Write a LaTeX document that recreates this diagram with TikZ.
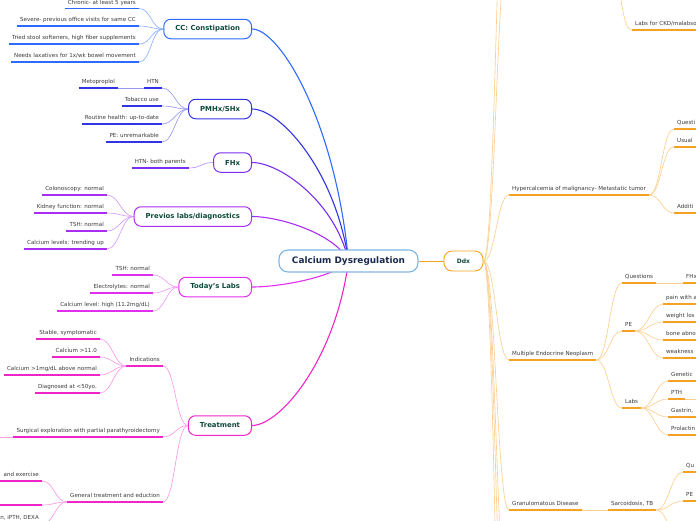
\documentclass[tikz,border=0pt]{standalone}
\usepackage{fontspec}
\setmainfont{DejaVu Sans}
\usetikzlibrary{backgrounds}
\definecolor{ccC}{HTML}{2D6BFF}\definecolor{ccL}{HTML}{8FB0FF}
\definecolor{pmC}{HTML}{3333E6}\definecolor{pmL}{HTML}{9999F2}
\definecolor{fhC}{HTML}{7B2FF0}\definecolor{fhL}{HTML}{B793F7}
\definecolor{pvC}{HTML}{A82EF2}\definecolor{pvL}{HTML}{D49BF8}
\definecolor{tdC}{HTML}{E22EF0}\definecolor{tdL}{HTML}{F29AF7}
\definecolor{trC}{HTML}{F025C8}\definecolor{trL}{HTML}{FA9BE6}
\definecolor{dxC}{HTML}{F5A122}\definecolor{dxL}{HTML}{FCCF90}
\definecolor{rootB}{HTML}{7EB6E3}\definecolor{rootT}{HTML}{1B2B50}
\definecolor{mainT}{HTML}{0E4A3B}\definecolor{txt}{HTML}{3A3A3A}
\newcommand\lfnt{\fontsize{5.55}{6}\selectfont}
\newcommand\mfnt{\bfseries\fontsize{6.9}{8}\selectfont}
\newcommand\rfnt{\bfseries\fontsize{8.9}{10}\selectfont}
\newcommand\lfL[5]{\node[leafL] (#1) at (#2,#3) {#4};\draw[uline,#5] (#1.south west) -- (#1.south east);}
\newcommand\lfR[5]{\node[leafR] (#1) at (#2,#3) {#4};\draw[uline,#5] (#1.south west) -- (#1.south east);}
\newcommand\lfC[5]{\node[leafR,text width=40pt,align=left] (#1) at (#2,#3) {#4};\draw[uline,#5] (#1.south west) -- (#1.south east);}
\newcommand\cnS[3]{\draw[conn,#3] (#1) .. controls +(12,0) and +(-12,0) .. (#2);}
\newcommand\cnM[3]{\draw[#2,line width=1.1pt] (#1.east) .. controls +(28,0) and +(-13,#3) .. (root.center);}
\begin{document}
\begin{tikzpicture}[x=1pt,y=-1pt,
  leafL/.style={anchor=south east,inner xsep=3pt,inner ysep=0pt,text height=4pt,text depth=4pt,font=\lfnt,text=txt},
  leafR/.style={anchor=south west,inner xsep=3pt,inner ysep=0pt,text height=4pt,text depth=4pt,font=\lfnt,text=txt},
  uline/.style={line width=1.4pt},
  conn/.style={line width=.65pt},
  mainbox/.style={draw,line width=1pt,rounded corners=7pt,fill=white,inner xsep=11.5pt,minimum height=19.5pt,font=\mfnt,text=mainT,anchor=east}]
\useasboundingbox (0,0) rectangle (696,520);
% root and Ddx
\node[draw=rootB,line width=1.1pt,rounded corners=9pt,fill=white,minimum width=139pt,minimum height=22pt,font=\rfnt,text=rootT] (root) at (348.5,261) {Calcium Dysregulation};
\node[draw=dxC,line width=.9pt,rounded corners=8pt,fill=white,minimum width=39pt,minimum height=20pt,font=\bfseries\fontsize{6}{7}\selectfont,text=mainT] (ddx) at (463.5,261) {Ddx};
% main nodes
\node[mainbox,draw=ccC] (cc) at (252,29) {CC: Constipation};
\node[mainbox,draw=pmC] (pm) at (252,109) {PMHx/SHx};
\node[mainbox,draw=fhC] (fh) at (252,162.5) {FHx};
\node[mainbox,draw=pvC] (pv) at (252,216.5) {Previos labs/diagnostics};
\node[mainbox,draw=tdC] (td) at (252,287) {Today's Labs};
\node[mainbox,draw=trC] (tr) at (252,425.5) {Treatment};
% CC leaves
\lfL{cc1}{139}{8.5}{Chronic- at least 5 years}{ccC}
\lfL{cc2}{139}{26}{Severe- previous office visits for same CC}{ccC}
\lfL{cc3}{139}{44}{Tried stool softeners, high fiber supplements}{ccC}
\lfL{cc4}{139}{62}{Needs laxatives for 1x/wk bowel movement}{ccC}
% PMHx leaves
\lfL{pm1}{162}{88}{HTN}{pmC}
\lfL{pm1a}{118}{88}{Metoproplol}{pmC}
\lfL{pm2}{162}{106}{Tobacco use}{pmC}
\lfL{pm3}{162}{124}{Routine health: up-to-date}{pmC}
\lfL{pm4}{162}{142}{PE: unremarkable}{pmC}
% FHx
\lfL{fh1}{189}{168}{HTN- both parents}{fhC}
% Previos
\lfL{pv1}{107}{195}{Colonoscopy: normal}{pvC}
\lfL{pv2}{107}{213}{Kidney function: normal}{pvC}
\lfL{pv3}{107}{231}{TSH: normal}{pvC}
\lfL{pv4}{107}{249}{Calcium levels: trending up}{pvC}
% Today's
\lfL{td1}{153}{275}{TSH: normal}{tdC}
\lfL{td2}{153}{293}{Electrolytes: normal}{tdC}
\lfL{td3}{153}{311}{Calcium level: high (11.2mg/dL)}{tdC}
% Treatment
\lfL{tr1}{163}{366}{Indications}{trC}
\lfL{in1}{100}{339}{Stable, symptomatic}{trC}
\lfL{in2}{100}{357}{Calcium >11.0}{trC}
\lfL{in3}{100}{375}{Calcium >1mg/dL above normal}{trC}
\lfL{in4}{100}{393}{Diagnosed at <50yo.}{trC}
\lfL{tr2}{163}{437}{Surgical exploration with partial parathyroidectomy}{trC}
\coordinate (sx) at (-20,437);
\lfL{tr3}{163}{502}{General treatment and eduction}{trC}
\lfL{ge1}{42}{481}{and exercise}{trC}
\coordinate (ge2w) at (-30,505);\coordinate (ge2) at (42,505);
\draw[uline,trC] (ge2w) -- (ge2);
\lfL{ge3}{42}{524}{n, iPTH, DEXA}{trC}
% Ddx right side
\coordinate (topp) at (610,-30);
\node[leafR,text width=70pt,align=left] (ckd) at (632,30) {Labs for CKD/malabso};
\draw[uline,dxC] (ckd.south west) -- (ckd.south east);
\lfR{hy}{509}{195}{Hypercalcemia of malignancy- Metastatic tumor}{dxC}
\lfC{hy1}{674}{129}{Questi}{dxC}
\lfC{hy2}{674}{147}{Usual}{dxC}
\lfC{hy3}{674}{213}{Additi}{dxC}
\lfR{men}{509}{360}{Multiple Endocrine Neoplasm}{dxC}
\lfR{mq}{622}{283}{Questions}{dxC}
\lfC{mq1}{683}{283}{FHx}{dxC}
\lfR{mp}{622}{331}{PE}{dxC}
\lfC{mp1}{663}{304}{pain with a}{dxC}
\lfC{mp2}{663}{322}{weight los}{dxC}
\lfC{mp3}{663}{340}{bone abno}{dxC}
\lfC{mp4}{663}{358}{weakness}{dxC}
\lfR{ml}{622}{408}{Labs}{dxC}
\lfC{ml1}{668}{381}{Genetic}{dxC}
\lfR{ml2}{668}{399}{PTH}{dxC}
\coordinate (pthx) at (720,399);
\lfC{ml3}{668}{417}{Gastrin,}{dxC}
\lfC{ml4}{668}{435}{Prolactin}{dxC}
\lfR{gr}{509}{510}{Granulomatous Disease}{dxC}
\lfR{sa}{608}{510}{Sarcoidosis, TB}{dxC}
\lfC{sa1}{683}{472}{Qu}{dxC}
\lfC{sa2}{683}{501}{PE}{dxC}
\coordinate (sa3) at (683,545);
\coordinate (up1) at (509,-60);\coordinate (up2) at (509,-200);
\coordinate (dn1) at (509,620);\coordinate (dn2) at (509,720);\coordinate (dn3) at (509,900);
% connectors
\begin{scope}[on background layer]
\cnM{cc}{ccC}{-139}
\cnM{pm}{pmC}{-91}
\cnM{fh}{fhC}{-59}
\cnM{pv}{pvC}{-27}
\cnM{td}{tdC}{16}
\cnM{tr}{trC}{99}
\draw[dxC,line width=.9pt] (root.east) -- (ddx.west);
\foreach \n in {cc1,cc2,cc3,cc4}{\cnS{\n.south east}{cc.west}{ccL}}
\foreach \n in {pm1,pm2,pm3,pm4}{\cnS{\n.south east}{pm.west}{pmL}}
\draw[conn,pmL] (pm1a.south east) -- (pm1.south west);
\cnS{fh1.south east}{fh.west}{fhL}
\foreach \n in {pv1,pv2,pv3,pv4}{\cnS{\n.south east}{pv.west}{pvL}}
\foreach \n in {td1,td2,td3}{\cnS{\n.south east}{td.west}{tdL}}
\foreach \n in {tr1,tr2,tr3}{\cnS{\n.south east}{tr.west}{trL}}
\foreach \n in {in1,in2,in3,in4}{\cnS{\n.south east}{tr1.south west}{trL}}
\draw[conn,trL] (sx) -- (tr2.south west);
\foreach \n in {ge1,ge2,ge3}{\cnS{\n.south east}{tr3.south west}{trL}}
\foreach \n in {up1,up2,dn1,dn2,dn3}{\cnS{ddx.east}{\n}{dxL}}
\foreach \n in {hy,men,gr}{\cnS{ddx.east}{\n.south west}{dxL}}
\cnS{topp}{ckd.south west}{dxL}
\foreach \n in {hy1,hy2,hy3}{\cnS{hy.south east}{\n.south west}{dxL}}
\foreach \n in {mq,mp,ml}{\cnS{men.south east}{\n.south west}{dxL}}
\draw[conn,dxL] (mq.south east) -- (mq1.south west);
\foreach \n in {mp1,mp2,mp3,mp4}{\cnS{mp.south east}{\n.south west}{dxL}}
\foreach \n in {ml1,ml2,ml3,ml4}{\cnS{ml.south east}{\n.south west}{dxL}}
\draw[conn,dxL] (ml2.south east) -- (pthx);
\draw[conn,dxL] (gr.south east) -- (sa.south west);
\foreach \n in {sa1,sa2}{\cnS{sa.south east}{\n.south west}{dxL}}
\cnS{sa.south east}{sa3}{dxL}
\end{scope}
\end{tikzpicture}
\end{document}
